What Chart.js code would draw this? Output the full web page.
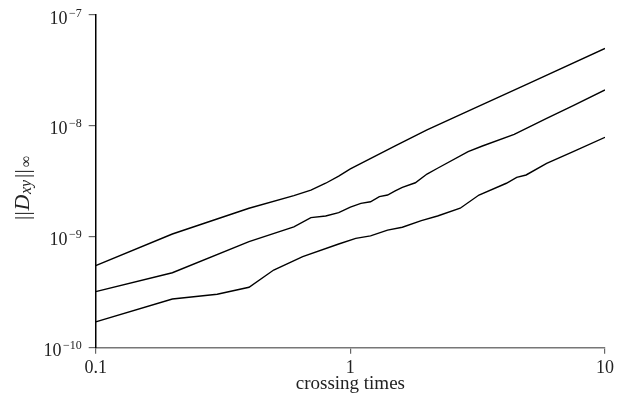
<!DOCTYPE html>
<html>
<head>
<meta charset="utf-8">
<style>
  html, body { margin: 0; padding: 0; background: #fff; }
  #wrap { width: 621px; height: 396px; }
</style>
<script src="https://cdn.jsdelivr.net/npm/chart.js@4/dist/chart.umd.min.js"></script>
</head>
<body>
<div id="wrap"><canvas id="err-chart" width="621" height="396"></canvas></div>
<script>
// values (log-log axes)
const xTicks = [0.1, 1, 10];
const xTickLabels = ['0.1', '1', '10'];
const yTickExps = [-10, -9, -8, -7];

const topX = [0.1, 0.2, 0.4, 0.6, 0.7, 0.8, 0.9, 1.0, 1.5, 2, 3, 5, 10];
const topY = [5.5e-10, 1.06e-9, 1.81e-9, 2.35e-9, 2.64e-9, 3.04e-9, 3.53e-9, 4.1e-9, 6.6e-9, 9.2e-9, 1.41e-8, 2.41e-8, 5.0e-8];

const midX = [0.1, 0.2, 0.4, 0.6, 0.7, 0.8, 0.9, 1.0, 1.1, 1.2, 1.3, 1.4, 1.5, 1.6, 1.8, 2.0, 2.2, 2.9, 3.3, 4.4, 5.9, 7.5, 10];
const midY = [3.2e-10, 4.74e-10, 9.04e-10, 1.23e-9, 1.49e-9, 1.54e-9, 1.65e-9, 1.85e-9, 2.0e-9, 2.07e-9, 2.3e-9, 2.38e-9, 2.59e-9, 2.79e-9, 3.07e-9, 3.68e-9, 4.15e-9, 5.85e-9, 6.59e-9, 8.4e-9, 1.17e-8, 1.52e-8, 2.11e-8];

const lowX = [0.1, 0.2, 0.3, 0.4, 0.5, 0.65, 0.9, 1.05, 1.2, 1.4, 1.6, 1.9, 2.2, 2.7, 3.2, 4.1, 4.5, 4.9, 5.9, 7.5, 10];
const lowY = [1.71e-10, 2.75e-10, 3.03e-10, 3.51e-10, 5.02e-10, 6.62e-10, 8.61e-10, 9.69e-10, 1.02e-9, 1.15e-9, 1.22e-9, 1.4e-9, 1.54e-9, 1.81e-9, 2.38e-9, 3.04e-9, 3.44e-9, 3.61e-9, 4.6e-9, 5.86e-9, 7.89e-9];

const serif = '"Liberation Serif", "DejaVu Serif", serif';
const textColor = '#222';

function pts(xs, ys) {
    return xs.map((x, i) => ({ x: x, y: ys[i] }));
}

function lineSet(xs, ys) {
    return {
        data: pts(xs, ys),
        borderColor: '#000',
        borderWidth: 1.4,
        pointRadius: 0,
        tension: 0,
        fill: false
    };
}

// tick labels with superscripts and the TeX-style axis titles
const texLabels = {
    id: 'texLabels',
    afterDraw(chart) {
        const { ctx, chartArea: area, scales: { x, y } } = chart;
        ctx.save();
        ctx.fillStyle = textColor;
        ctx.textBaseline = 'alphabetic';

        // y ticks: 10^-n
        yTickExps.forEach(e => {
            const py = y.getPixelForValue(Math.pow(10, e));
            const right = area.left - 14;
            const expStr = '\u2212' + Math.abs(e);
            ctx.font = '12px ' + serif;
            ctx.textAlign = 'right';
            ctx.fillText(expStr, right, py + 1.5);
            const w = ctx.measureText(expStr).width;
            ctx.font = '18px ' + serif;
            ctx.fillText('10', right - w - 1.5, py + 8.5);
        });

        // x ticks
        ctx.font = '18px ' + serif;
        ctx.textAlign = 'center';
        xTicks.forEach((v, i) => {
            ctx.fillText(xTickLabels[i], x.getPixelForValue(v), area.bottom + 25);
        });

        // x title
        ctx.font = '19px ' + serif;
        ctx.fillText('crossing times', (area.left + area.right) / 2, area.bottom + 41);

        // y title ||D_xy||_inf, rotated
        ctx.translate(29, 220);
        ctx.rotate(-Math.PI / 2);
        ctx.textAlign = 'left';
        ctx.font = '21px ' + serif;
        ctx.fillText('|', 0, 0);
        ctx.fillText('|', 4.5, 0);
        ctx.font = 'italic 22px ' + serif;
        ctx.fillText('D', 9.5, 0);
        ctx.font = 'italic 16px ' + serif;
        ctx.fillText('xy', 26, 1.5);
        ctx.font = '21px ' + serif;
        ctx.fillText('|', 42, 0);
        ctx.fillText('|', 46.5, 0);
        ctx.font = '16px ' + serif;
        ctx.fillText('\u221E', 53, 1.5);
        ctx.restore();
    }
};

const chart = new Chart(document.getElementById('err-chart').getContext('2d'), {
    type: 'line',
    data: {
        datasets: [
            lineSet(topX, topY),
            lineSet(midX, midY),
            lineSet(lowX, lowY)
        ]
    },
    options: {
        responsive: false,
        animation: false,
        devicePixelRatio: 1,
        layout: { padding: { top: 15, right: 16, left: 0, bottom: 0 } },
        plugins: {
            legend: { display: false },
            tooltip: { enabled: false }
        },
        scales: {
            x: {
                type: 'logarithmic',
                min: 0.1,
                max: 10,
                afterBuildTicks: s => { s.ticks = xTicks.map(v => ({ value: v })); },
                afterFit: s => { s.height = 48.3; },
                ticks: { display: false },
                grid: { drawOnChartArea: false, drawTicks: true, tickLength: 6, color: '#666', lineWidth: 1.2 },
                border: { display: true, color: '#777', width: 1.5 }
            },
            y: {
                type: 'logarithmic',
                min: 1e-10,
                max: 1e-7,
                afterBuildTicks: s => { s.ticks = yTickExps.map(e => ({ value: Math.pow(10, e) })); },
                afterFit: s => { s.width = 95.7; },
                ticks: { display: false },
                grid: { drawOnChartArea: false, drawTicks: true, tickLength: 7, color: '#666', lineWidth: 1.2 },
                border: { display: true, color: '#000', width: 1.5 }
            }
        }
    },
    plugins: [texLabels]
});
</script>
</body>
</html>
